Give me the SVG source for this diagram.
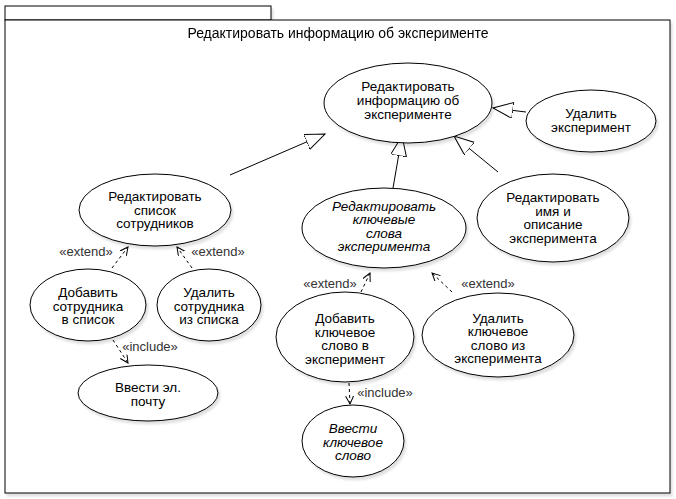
<svg xmlns="http://www.w3.org/2000/svg" width="676" height="499" viewBox="0 0 676 499">
<style>
  .frame { fill: #ffffff; stroke: #000000; stroke-width: 1; }
  .uc { fill: #ffffff; stroke: #000000; stroke-width: 1; filter: url(#shadow); }
  .t { font-family: "Liberation Sans", Arial, sans-serif; font-size: 13.5px; fill: #000000; text-anchor: middle; }
  .title { font-size: 14px; }
  .it { font-style: italic; }
  .lbl { font-family: "Liberation Sans", Arial, sans-serif; font-size: 13px; fill: #333333; text-anchor: middle; }
  .gen { fill: none; stroke: #000000; stroke-width: 1; marker-end: url(#tri); }
  .dep { fill: none; stroke: #000000; stroke-width: 1; stroke-dasharray: 3 3; marker-end: url(#open); }
</style>
<defs>
  <filter id="shadow" x="-10%" y="-10%" width="130%" height="130%">
    <feDropShadow dx="2" dy="3" stdDeviation="1" flood-color="#000000" flood-opacity="0.12"/>
  </filter>
  <marker id="tri" markerUnits="userSpaceOnUse" markerWidth="22" markerHeight="18" refX="20" refY="8" orient="auto">
    <path d="M0,0 L20,8 L0,16 Z" fill="#ffffff" stroke="#000000" stroke-width="1" stroke-dasharray="none"/>
  </marker>
  <marker id="open" markerUnits="userSpaceOnUse" markerWidth="10" markerHeight="10" refX="8" refY="4" orient="auto">
    <path d="M0,0 L8,4 L0,8" fill="none" stroke="#000000" stroke-width="1" stroke-dasharray="none"/>
  </marker>
</defs>

<g id="package" filter="url(#shadow)">
  <rect class="frame" x="5" y="6" width="266" height="14"/>
  <rect class="frame" x="5" y="20" width="665" height="473"/>
  <text class="t title" x="338" y="38">Редактировать информацию об эксперименте</text>
</g>

<g id="connectors">
  <line class="gen" x1="230" y1="175" x2="325" y2="134"/>
  <line class="gen" x1="393" y1="188" x2="402" y2="136"/>
  <line class="gen" x1="498" y1="172" x2="454" y2="136"/>
  <line class="gen" x1="526" y1="112" x2="493" y2="108"/>
  <line class="dep" x1="112" y1="268" x2="128" y2="247"/>
  <line class="dep" x1="192" y1="268" x2="177" y2="247"/>
  <line class="dep" x1="361" y1="292" x2="370" y2="273"/>
  <line class="dep" x1="452" y1="292" x2="432" y2="273"/>
  <line class="dep" x1="113" y1="340" x2="128" y2="363"/>
  <line class="dep" x1="349" y1="383" x2="350" y2="404"/>
  <text class="lbl" x="86" y="256">«extend»</text>
  <text class="lbl" x="218" y="256">«extend»</text>
  <text class="lbl" x="330" y="288">«extend»</text>
  <text class="lbl" x="488" y="288">«extend»</text>
  <text class="lbl" x="150" y="351">«include»</text>
  <text class="lbl" x="385" y="397">«include»</text>
</g>

<g id="uc-edit-info">
  <ellipse class="uc" cx="408" cy="103" rx="84" ry="40"/>
  <text class="t"><tspan x="408" y="91">Редактировать</tspan><tspan x="408" y="105">информацию об</tspan><tspan x="408" y="119">эксперименте</tspan></text>
</g>

<g id="uc-delete-exp">
  <ellipse class="uc" cx="591" cy="121" rx="65" ry="31"/>
  <text class="t"><tspan x="591" y="118">Удалить</tspan><tspan x="591" y="132">эксперимент</tspan></text>
</g>

<g id="uc-edit-staff">
  <ellipse class="uc" cx="155" cy="210" rx="76" ry="36"/>
  <text class="t"><tspan x="155" y="201">Редактировать</tspan><tspan x="155" y="214.5">список</tspan><tspan x="155" y="228">сотрудников</tspan></text>
</g>

<g id="uc-edit-keywords">
  <ellipse class="uc" cx="384" cy="228" rx="82" ry="40"/>
  <text class="t it"><tspan x="384" y="210.5">Редактировать</tspan><tspan x="384" y="224">ключевые</tspan><tspan x="384" y="237.5">слова</tspan><tspan x="384" y="251">эксперимента</tspan></text>
</g>

<g id="uc-edit-name">
  <ellipse class="uc" cx="553" cy="218" rx="76" ry="44"/>
  <text class="t"><tspan x="553" y="202">Редактировать</tspan><tspan x="553" y="215.5">имя и</tspan><tspan x="553" y="229">описание</tspan><tspan x="553" y="242.5">эксперимента</tspan></text>
</g>

<g id="uc-add-staff">
  <ellipse class="uc" cx="88" cy="305" rx="58" ry="36"/>
  <text class="t"><tspan x="88" y="297">Добавить</tspan><tspan x="88" y="310.5">сотрудника</tspan><tspan x="88" y="324">в список</tspan></text>
</g>

<g id="uc-del-staff">
  <ellipse class="uc" cx="209" cy="305" rx="52" ry="36"/>
  <text class="t"><tspan x="209" y="297">Удалить</tspan><tspan x="209" y="310.5">сотрудника</tspan><tspan x="209" y="324">из списка</tspan></text>
</g>

<g id="uc-email">
  <ellipse class="uc" cx="148" cy="393" rx="70" ry="28"/>
  <text class="t"><tspan x="148" y="392">Ввести эл.</tspan><tspan x="148" y="406">почту</tspan></text>
</g>

<g id="uc-add-keyword">
  <ellipse class="uc" cx="345" cy="337" rx="69" ry="45"/>
  <text class="t"><tspan x="345" y="323">Добавить</tspan><tspan x="345" y="336.5">ключевое</tspan><tspan x="345" y="350">слово в</tspan><tspan x="345" y="363.5">эксперимент</tspan></text>
</g>

<g id="uc-del-keyword">
  <ellipse class="uc" cx="498" cy="335" rx="76" ry="42"/>
  <text class="t"><tspan x="498" y="322.5">Удалить</tspan><tspan x="498" y="336">ключевое</tspan><tspan x="498" y="349.5">слово из</tspan><tspan x="498" y="363">эксперимента</tspan></text>
</g>

<g id="uc-enter-keyword">
  <ellipse class="uc" cx="353" cy="441" rx="51" ry="36"/>
  <text class="t it"><tspan x="353" y="433">Ввести</tspan><tspan x="353" y="446.5">ключевое</tspan><tspan x="353" y="460">слово</tspan></text>
</g>
</svg>
